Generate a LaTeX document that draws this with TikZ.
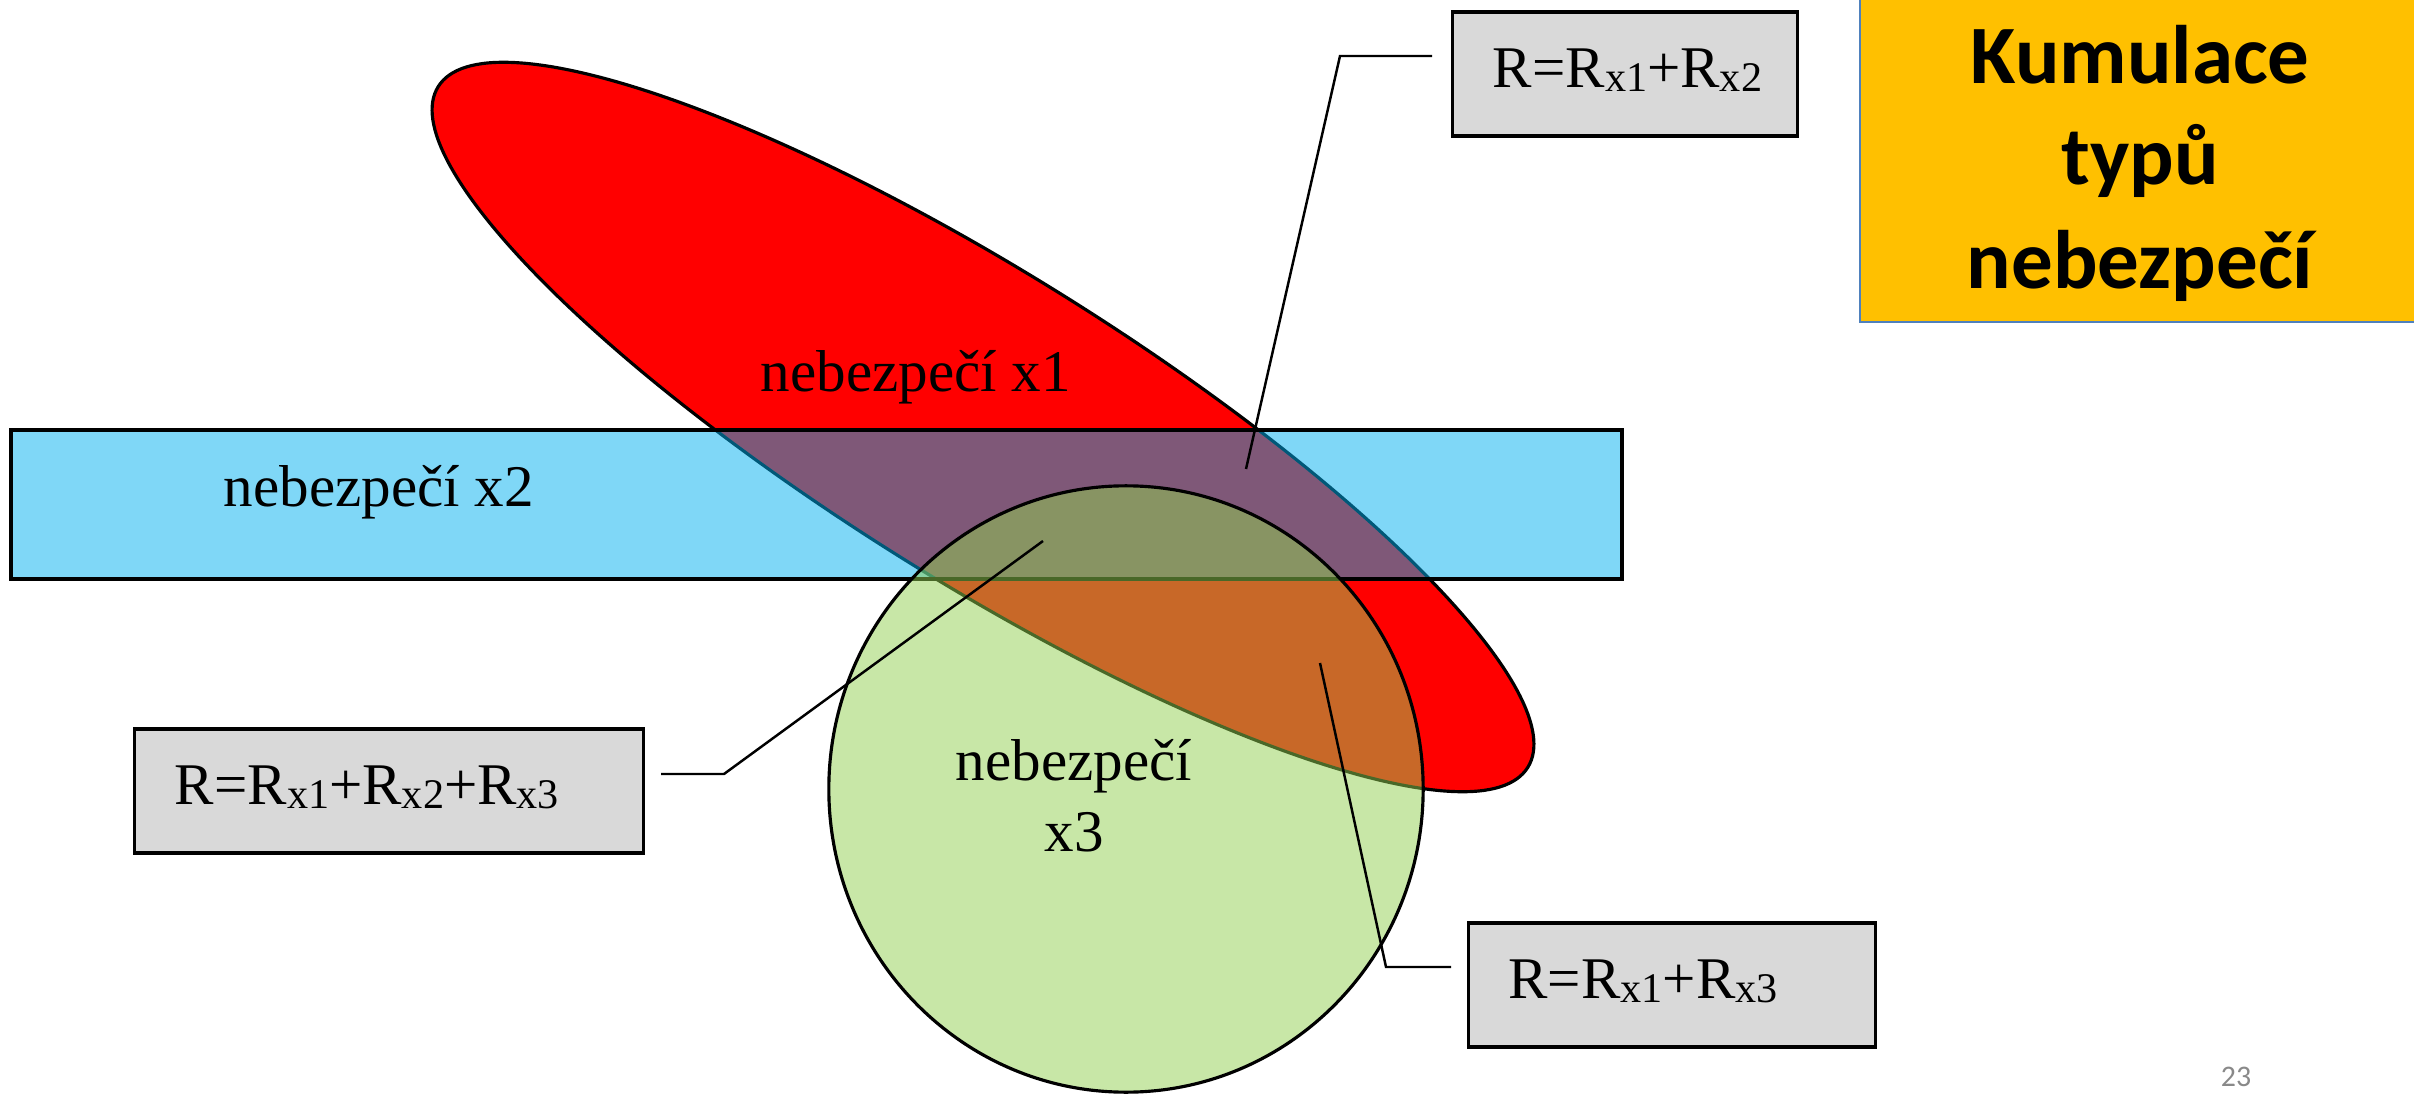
\documentclass[tikz,border=0pt]{standalone}
\usepackage{fontspec}
\setmainfont{Liberation Serif}
\newfontfamily\headfont{Carlito}
\definecolor{redfill}{HTML}{FF0000}
\definecolor{bluefill}{HTML}{00B0F0}
\definecolor{greenfill}{HTML}{92D050}
\definecolor{boxgray}{HTML}{D9D9D9}
\definecolor{yellowfill}{HTML}{FFC000}
\definecolor{headblue}{HTML}{4F81BD}
\definecolor{pagegray}{HTML}{898989}
\newcommand\sbx[1]{\raisebox{-0.07em}{\fontsize{12pt}{12pt}\selectfont #1}}
\newcommand\serifbig{\fontsize{16.8pt}{20pt}\selectfont}
\tikzset{
  callbox/.style={draw=black, line width=0.9pt, fill=boxgray, minimum height=1.24cm,
    inner xsep=0.4cm, inner ysep=0pt, text height=0.3cm, text depth=0.03cm,
    align=left, font=\serifbig},
  callline/.style={draw=black, line width=0.7pt},
  hazlabel/.style={font=\serifbig, inner sep=0pt},
  headtext/.style={font=\headfont\bfseries\fontsize{23.6pt}{29pt}\selectfont, inner sep=0pt, anchor=base},
  shapeline/.style={draw=black, line width=0.9pt},
}
\begin{document}
\begin{tikzpicture}[x=0.01cm, y=-0.01cm]
\useasboundingbox (0,0) rectangle (2414,1094);
\fill[white] (0,0) rectangle (2414,1094);

% heading box
\path[fill=yellowfill, draw=headblue, line width=0.7pt] (1860,-20) rectangle (2440,322);
\node[headtext] (h1) at (2140,84) {Kumulace};
\node[headtext] (h2) at (2140,185) {typů};
\node[headtext] (h3) at (2140,288) {nebezpečí};

% hazard x1 (red ellipse)
\path[shapeline, fill=redfill, rotate around={-32:(983,427)}] (983,427) ellipse [x radius=6.42cm, y radius=1.54cm];
% hazard x2 (blue band)
\path[shapeline, fill=bluefill, fill opacity=0.5] (11,430) rectangle (1622,579);
% hazard x3 (green circle)
\path[shapeline, fill=greenfill, fill opacity=0.5] (1126,789) ellipse [x radius=2.97cm, y radius=3.03cm];

% labels
\node[hazlabel, anchor=base west] (x1) at (760,392) {nebezpečí x1};
\node[hazlabel, anchor=base west] (x2) at (223,506) {nebezpečí x2};
\node[hazlabel, anchor=base] (x3a) at (1074,780) {nebezpečí};
\node[hazlabel, anchor=base] (x3b) at (1074,851) {x3};

% callout boxes
\node[callbox, text width=2.64cm] (b1) at (1625,74) {R=R\sbx{x1}+R\sbx{x2}};
\node[callbox, text width=4.28cm] (b2) at (389,791) {R=R\sbx{x1}+R\sbx{x2}+R\sbx{x3}};
\node[callbox, text width=3.27cm] (b3) at (1672,985) {R=R\sbx{x1}+R\sbx{x3}};

% callout lines
\coordinate (c1s) at (1432,56);
\coordinate (c1k) at (1340,56);
\coordinate (c1e) at (1246,469);
\coordinate (c2s) at (661,774);
\coordinate (c2k) at (724,774);
\coordinate (c2e) at (1043,541);
\coordinate (c3s) at (1451,967);
\coordinate (c3k) at (1386,967);
\coordinate (c3e) at (1320,663);
\draw[callline] (c1s) -- (c1k) -- (c1e);
\draw[callline] (c2s) -- (c2k) -- (c2e);
\draw[callline] (c3s) -- (c3k) -- (c3e);

% page number
\node[font=\headfont\fontsize{8.5pt}{10pt}\selectfont, text=pagegray, anchor=base, inner sep=0pt] (pg) at (2236,1086) {23};
\end{tikzpicture}
\end{document}
